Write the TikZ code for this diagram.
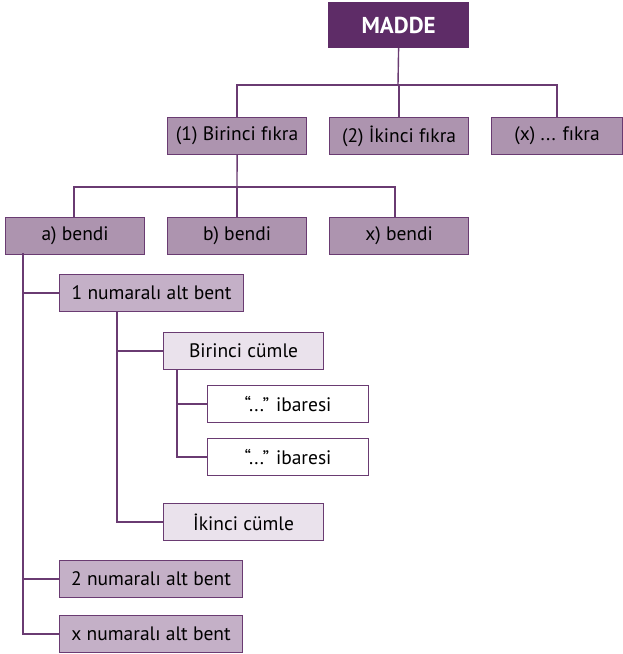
\documentclass[tikz,border=0pt]{standalone}
\usepackage{fontspec}
\setmainfont{PT Sans}
\begin{document}
\begin{tikzpicture}[x=1pt,y=-1pt,
  line/.style={draw=linec,line width=1.4pt},
  box/.style={draw=linec,line width=1.2pt,minimum height=37pt,inner sep=0pt,anchor=north west,font=\fontsize{19.5}{21}\selectfont},
  lvA/.style={box,fill=fillA},
  lvB/.style={box,fill=fillB},
  lvC/.style={box,fill=fillC},
  lvD/.style={box,fill=white},
]
\definecolor{linec}{HTML}{6A3B72}
\definecolor{headc}{HTML}{5E2C67}
\definecolor{fillA}{HTML}{AD94AF}
\definecolor{fillB}{HTML}{C4B0C7}
\definecolor{fillC}{HTML}{EAE2EC}
\useasboundingbox (0,0) rectangle (623,654);

% head
\node[box,fill=headc,draw=headc,text=white,font=\fontsize{23}{25}\selectfont\bfseries,minimum width=140pt,minimum height=45pt] (madde) at (328,2) {MADDE};

% fikra level
\node[lvA,minimum width=139pt] (f1) at (167,117) {(1) Birinci fıkra};
\node[lvA,minimum width=139pt] (f2) at (329,117) {(2) İkinci fıkra};
\node[lvA,minimum width=131pt] (fx) at (491,117) {(x) ... fıkra};

% bent level
\node[lvA,minimum width=139pt] (ba) at (5,217) {a) bendi};
\node[lvA,minimum width=139pt] (bb) at (167,217) {b) bendi};
\node[lvA,minimum width=139pt] (bx) at (329,217) {x) bendi};

% alt bent level
\node[lvB,minimum width=184pt] (ab1) at (59,274) {1 numaralı alt bent};
\node[lvB,minimum width=183pt] (ab2) at (59,560) {2 numaralı alt bent};
\node[lvB,minimum width=183pt] (abx) at (59,615) {x numaralı alt bent};

% sentences
\node[lvC,minimum width=160pt] (c1) at (163,332) {Birinci cümle};
\node[lvC,minimum width=160pt] (c2) at (163,503) {İkinci cümle};

% phrases
\node[lvD,minimum width=161pt] (i1) at (207,385) {“...” ibaresi};
\node[lvD,minimum width=161pt] (i2) at (207,438) {“...” ibaresi};

% madde -> fikralar
\coordinate (j0) at (398,85);
\draw[line] (madde.south) -- (j0);
\draw[line] (f1.north) |- (j0) -| (fx.north);
\draw[line] (f2.north) -- (f2.north |- j0);

% fikra -> bentler
\coordinate (j1) at (237,187);
\draw[line] (f1.south) -- (j1);
\draw[line] (ba.north -| 74,0) |- (j1) -| (bx.north -| 395,0);
\draw[line] (bb.north -| j1) -- (j1);

% bent -> alt bentler
\coordinate (v1) at (23,253);
\draw[line] (v1) |- (abx.west);
\draw[line] (v1 |- ab1.west) -- (ab1.west);
\draw[line] (v1 |- ab2.west) -- (ab2.west);

% alt bent -> cumleler
\coordinate (v2) at (117,311);
\draw[line] (v2) |- (c2.west);
\draw[line] (v2 |- c1.west) -- (c1.west);

% cumle -> ibareler
\coordinate (v3) at (177,369);
\draw[line] (v3) |- (i2.west);
\draw[line] (v3 |- i1.west) -- (i1.west);
\end{tikzpicture}
\end{document}
